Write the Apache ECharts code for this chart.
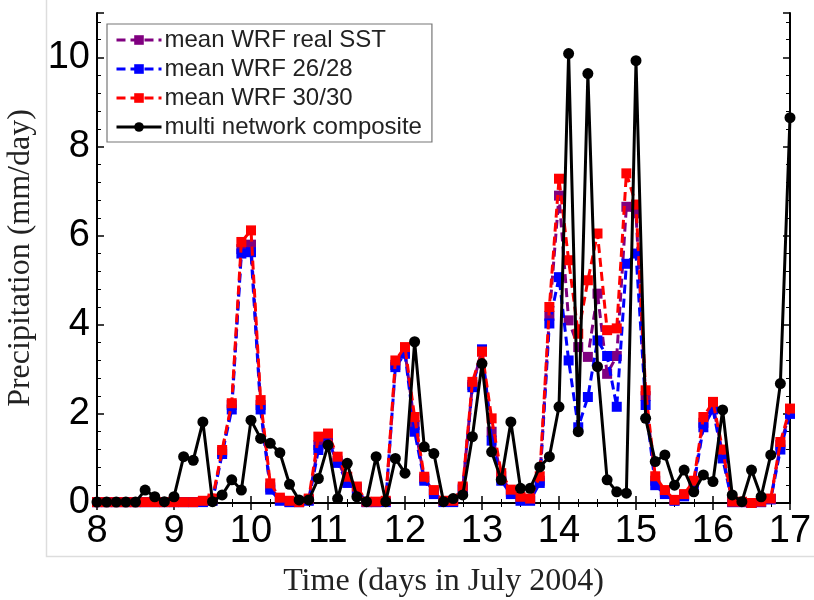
<!DOCTYPE html>
<html>
<head>
<meta charset="utf-8">
<title>Precipitation, July 2004</title>
<script src="https://cdn.jsdelivr.net/npm/echarts@6/dist/echarts.min.js"></script>
<style>
  html, body { margin: 0; padding: 0; background: #fff; }
  #chart { width: 814px; height: 600px; }
</style>
</head>
<body>
<div id="chart"></div>
<script>
// 3-hourly samples, 8 July 00h to 17 July 00h
var startDay = 8;
var stepDays = 0.125;

var xTicks = [8, 9, 10, 11, 12, 13, 14, 15, 16, 17];
var yTicks = [0, 2, 4, 6, 8, 10];

var seriesNames = ['mean WRF real SST', 'mean WRF 26/28', 'mean WRF 30/30', 'multi network composite'];

var wrfRealSst = [
  0.02, 0.02, 0.02, 0.02, 0.02, 0.02, 0.02, 0.02, 0.02, 0.02, 0.02, 0.03, 0.06,
  1.15, 2.2, 5.7, 5.8, 2.2, 0.35, 0.08, 0.02, 0.02, 0.08, 1.3, 1.5,
  0.95, 0.5, 0.33, 0.02, 0.02, 0.03, 3.1, 3.4, 1.75, 0.55, 0.25, 0.03,
  0.03, 0.33, 2.65, 3.4, 1.6, 0.6, 0.25, 0.1, 0.08, 0.5, 4.2, 6.9,
  4.1, 3.5, 3.28, 4.7, 2.9, 3.3, 6.65, 6.5, 2.4, 0.5, 0.25, 0.06,
  0.18, 0.45, 1.8, 2.2, 1.1, 0.02, 0.02, 0.0, 0.02, 0.09, 1.3, 2.05
];
var wrf2628 = [
  0.02, 0.02, 0.02, 0.02, 0.02, 0.02, 0.02, 0.02, 0.02, 0.02, 0.02, 0.02, 0.05,
  1.1, 2.1, 5.6, 5.63, 2.1, 0.3, 0.05, 0.02, 0.02, 0.05, 1.19, 1.4,
  0.9, 0.45, 0.3, 0.02, 0.02, 0.02, 3.05, 3.35, 1.6, 0.5, 0.2, 0.02,
  0.02, 0.3, 2.6, 3.45, 1.4, 0.5, 0.2, 0.05, 0.05, 0.45, 4.03, 5.07,
  3.2, 1.7, 2.38, 3.65, 3.3, 2.16, 5.37, 5.6, 2.2, 0.4, 0.2, 0.05,
  0.15, 0.4, 1.7, 2.1, 1.0, 0.02, 0.02, 0.0, 0.02, 0.08, 1.2, 2.0
];
var wrf3030 = [
  0.02, 0.02, 0.02, 0.02, 0.02, 0.02, 0.02, 0.02, 0.02, 0.02, 0.02, 0.05, 0.1,
  1.19, 2.24, 5.86, 6.12, 2.31, 0.44, 0.12, 0.05, 0.02, 0.1, 1.49, 1.56,
  1.04, 0.59, 0.37, 0.03, 0.03, 0.05, 3.2, 3.5, 1.93, 0.59, 0.29, 0.05,
  0.05, 0.37, 2.72, 3.4, 1.9, 0.67, 0.3, 0.14, 0.1, 0.6, 4.4, 7.28,
  5.45, 3.8, 5.0, 6.05, 3.88, 3.92, 7.4, 6.7, 2.53, 0.6, 0.29, 0.07,
  0.2, 0.5, 1.93, 2.27, 1.2, 0.03, 0.03, 0.0, 0.03, 0.1, 1.37, 2.12
];
var composite = [
  0.02, 0.02, 0.02, 0.02, 0.02, 0.29, 0.14, 0.03, 0.14, 1.04, 0.96, 1.82, 0.03,
  0.18, 0.52, 0.29, 1.86, 1.45, 1.34, 1.13, 0.42, 0.07, 0.07, 0.55, 1.3,
  0.1, 0.89, 0.14, 0.03, 1.04, 0.03, 1.0, 0.67, 3.62, 1.26, 1.11, 0.03,
  0.1, 0.18, 1.49, 3.13, 1.15, 0.52, 1.82, 0.33, 0.33, 0.81, 1.04, 2.16,
  10.09, 1.6, 9.64, 3.06, 0.52, 0.25, 0.22, 9.93, 1.9, 0.93, 1.08, 0.4,
  0.74, 0.25, 0.63, 0.48, 2.09, 0.18, 0.03, 0.74, 0.14, 1.08, 2.68, 8.65
];

function pairs(values) {
  return values.map(function (v, i) { return [startDay + i * stepDays, v]; });
}

function modelSeries(name, color, values, z) {
  return {
    name: name,
    type: 'line',
    data: pairs(values),
    symbol: 'rect',
    symbolSize: 10,
    z: z,
    itemStyle: { color: color },
    lineStyle: { color: color, width: 3, type: [9, 5] }
  };
}

var chart = echarts.init(document.getElementById('chart'), null, { renderer: 'canvas' });

var tickCommon = { show: true, inside: true, length: 7, lineStyle: { color: '#000', width: 1.5 } };
var minorCommon = { show: true, length: 4, lineStyle: { color: '#000', width: 1 } };

chart.setOption({
  animation: false,
  backgroundColor: '#fff',
  grid: { left: 97, right: 24, top: 13, bottom: 97, containLabel: false, outerBoundsMode: 'none' },
  legend: {
    orient: 'vertical',
    left: 107,
    top: 24,
    data: seriesNames,
    itemWidth: 45,
    itemHeight: 12,
    itemGap: 5,
    padding: [4, 10, 3, 8],
    borderColor: '#777',
    borderWidth: 1.2,
    backgroundColor: '#fff',
    lineStyle: { width: 3 },
    textStyle: { fontFamily: 'Liberation Sans', fontSize: 24, color: '#222', lineHeight: 24, padding: [0, 0, 0, -2] }
  },
  xAxis: [{
    type: 'value',
    min: xTicks[0],
    max: xTicks[xTicks.length - 1],
    interval: 1,
    name: 'Time (days in July 2004)',
    nameLocation: 'middle',
    nameGap: 63,
    nameTextStyle: { fontFamily: 'Liberation Serif', fontSize: 32, color: '#222' },
    axisLine: { lineStyle: { color: '#000', width: 2 } },
    axisTick: tickCommon,
    minorTick: Object.assign({ splitNumber: 4 }, minorCommon),
    axisLabel: { fontFamily: 'Liberation Sans', fontSize: 38, color: '#000', margin: 10 },
    splitLine: { show: false }
  }, {
    type: 'value',
    position: 'top',
    min: xTicks[0],
    max: xTicks[xTicks.length - 1],
    interval: 1,
    axisLine: { lineStyle: { color: '#000', width: 2 } },
    axisTick: tickCommon,
    minorTick: Object.assign({ splitNumber: 4 }, minorCommon),
    axisLabel: { show: false },
    splitLine: { show: false }
  }],
  yAxis: [{
    type: 'value',
    min: 0,
    max: 11,
    interval: 2,
    name: 'Precipitation (mm/day)',
    nameLocation: 'middle',
    nameGap: 57,
    nameTextStyle: { fontFamily: 'Liberation Serif', fontSize: 32, color: '#222' },
    axisLine: { show: true, lineStyle: { color: '#000', width: 2 } },
    axisTick: tickCommon,
    minorTick: Object.assign({ splitNumber: 5 }, minorCommon),
    axisLabel: {
      fontFamily: 'Liberation Sans', fontSize: 38, color: '#000', margin: 7,
      formatter: function (v) { return yTicks.indexOf(v) >= 0 ? String(v) : ''; }
    },
    splitLine: { show: false }
  }, {
    type: 'value',
    position: 'right',
    min: 0,
    max: 11,
    interval: 2,
    axisLine: { show: true, lineStyle: { color: '#000', width: 2 } },
    axisTick: tickCommon,
    minorTick: Object.assign({ splitNumber: 5 }, minorCommon),
    axisLabel: { show: false },
    splitLine: { show: false }
  }],
  graphic: [{
    type: 'polyline',
    silent: true,
    z: -1,
    shape: { points: [[46.5, 0], [46.5, 556.5], [814, 556.5]] },
    style: { stroke: '#ddd', lineWidth: 1.5, fill: null }
  }],
  series: [
    modelSeries(seriesNames[0], '#800080', wrfRealSst, 2),
    modelSeries(seriesNames[1], '#0000ff', wrf2628, 3),
    modelSeries(seriesNames[2], '#ff0000', wrf3030, 4),
    {
      name: seriesNames[3],
      type: 'line',
      data: pairs(composite),
      symbol: 'circle',
      symbolSize: 11,
      z: 5,
      itemStyle: { color: '#000' },
      lineStyle: { color: '#000', width: 3 }
    }
  ]
});
</script>
</body>
</html>
